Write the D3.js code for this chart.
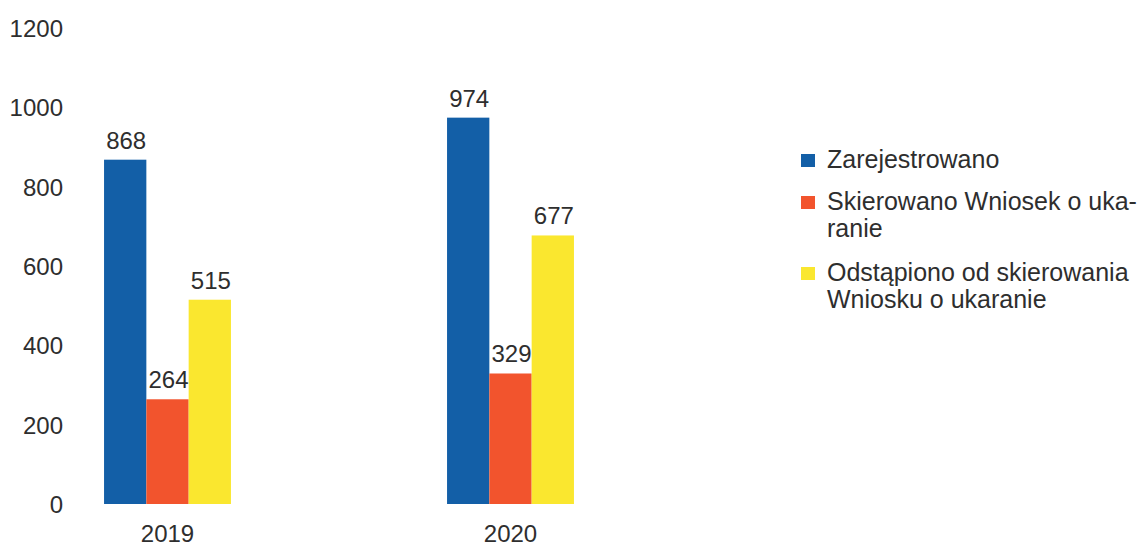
<!DOCTYPE html>
<html>
<head>
<meta charset="utf-8">
<script src="https://cdn.jsdelivr.net/npm/d3@7"></script>
<style>
  html, body { margin: 0; padding: 0; background: #fff; }
  svg { display: block; font-family: "Liberation Sans", Arial, sans-serif; }
</style>
</head>
<body>
<svg id="chart" width="1148" height="548"></svg>
<script>
const categories = ["2019", "2020"];
const seriesNames = ["Zarejestrowano", "Skierowano Wniosek o ukaranie", "Odstąpiono od skierowania Wniosku o ukaranie"];
const zarejestrowano = [868, 974];
const skierowano = [264, 329];
const odstapiono = [515, 677];
const yTicks = [0, 200, 400, 600, 800, 1000, 1200];
const legendLines = [["Zarejestrowano"], ["Skierowano Wniosek o uka-", "ranie"], ["Odstąpiono od skierowania", "Wniosku o ukaranie"]];
const colors = ["#135fa7", "#f2542d", "#fae72f"];

const seriesValues = [zarejestrowano, skierowano, odstapiono];
const svg = d3.select("#chart");
const textColor = "#2e2e2e";

const x0 = d3.scaleBand().domain(categories).range([-4, 682]).paddingInner(0.63).paddingOuter(0.315);
const x1 = d3.scaleBand().domain(d3.range(seriesNames.length)).range([0, x0.bandwidth()]).padding(0);
const y = d3.scaleLinear().domain([0, 1200]).range([504, 28]);

// y axis (labels only)
const yAxis = d3.axisLeft(y).tickValues(yTicks).tickSize(0).tickPadding(0).tickFormat(d3.format("d"));
const gy = svg.append("g").attr("transform", "translate(63,0)").call(yAxis);
gy.select(".domain").remove();
gy.selectAll("text").attr("font-size", 24).attr("fill", textColor).attr("font-family", "Liberation Sans, Arial, sans-serif").attr("dy", "0.36em");

// x axis labels
const xAxis = d3.axisBottom(x0).tickSize(0).tickPadding(0);
const gx = svg.append("g").attr("transform", "translate(0,504)").call(xAxis);
gx.select(".domain").remove();
gx.selectAll("text").attr("font-size", 24).attr("fill", textColor).attr("font-family", "Liberation Sans, Arial, sans-serif").attr("dy", null).attr("y", 38);

// bars
const groups = svg.append("g").selectAll("g").data(categories).join("g")
  .attr("transform", d => `translate(${x0(d)},0)`);

groups.each(function(cat, ci) {
  const g = d3.select(this);
  const data = seriesValues.map((vals, si) => ({ si, v: vals[ci] }));
  g.selectAll("rect").data(data).join("rect")
    .attr("x", d => x1(d.si))
    .attr("width", x1.bandwidth())
    .attr("y", d => y(d.v))
    .attr("height", d => y(0) - y(d.v))
    .attr("fill", d => colors[d.si]);
  g.selectAll("text.val").data(data).join("text")
    .attr("class", "val")
    .attr("x", d => x1(d.si) + x1.bandwidth() / 2 + 1)
    .attr("y", d => y(d.v) - 11)
    .attr("text-anchor", "middle")
    .attr("font-size", 24)
    .attr("fill", textColor)
    .text(d => d.v);
});

// legend
const legendBaselines = [168, 210, 281];
const lineHeight = 27;
const legend = svg.append("g");
legendLines.forEach((lines, i) => {
  legend.append("rect")
    .attr("x", 801).attr("y", legendBaselines[i] - 14)
    .attr("width", 14).attr("height", 13)
    .attr("fill", colors[i]);
  const t = legend.append("text")
    .attr("x", 827).attr("y", legendBaselines[i])
    .attr("font-size", 25).attr("fill", textColor);
  lines.forEach((ln, j) => {
    t.append("tspan").attr("x", 827).attr("y", legendBaselines[i] + j * lineHeight).text(ln);
  });
});
</script>
</body>
</html>
